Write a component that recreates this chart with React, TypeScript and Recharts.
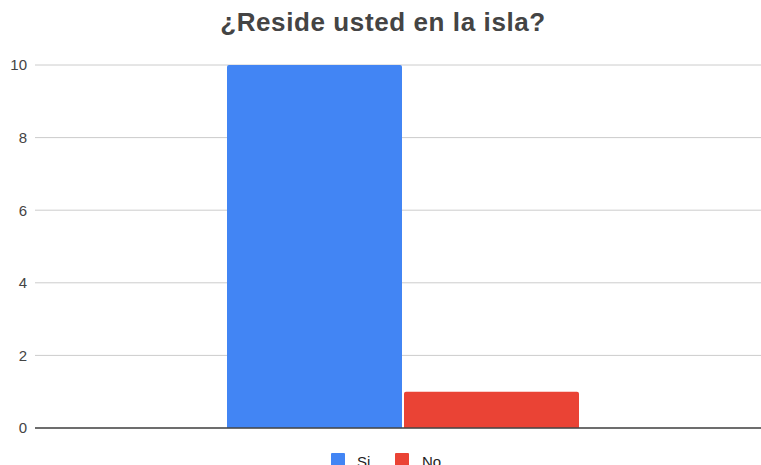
import React from "react";
import { BarChart, Bar, XAxis, YAxis, CartesianGrid, ReferenceLine } from "recharts";

const categories = [""];
const siValues = [10];
const noValues = [1];
const yTicks = [0, 2, 4, 6, 8, 10];
const seriesNames = ["Si", "No"];
const seriesColors = ["#4285F4", "#EA4335"];

const data = categories.map((c, i) => ({ name: c, Si: siValues[i], No: noValues[i] }));

const FONT = "Liberation Sans, Arial, sans-serif";

export default function App() {
  return (
    <div style={{ position: "absolute", left: 0, top: 0, width: 761, height: 465, overflow: "hidden", background: "#fff" }}>
      <div
        style={{
          position: "absolute",
          left: 0,
          width: 766,
          top: 10,
          lineHeight: "25px",
          textAlign: "center",
          fontFamily: FONT,
          fontWeight: "bold",
          fontSize: 26,
          letterSpacing: 0.6,
          color: "#444",
          zIndex: 2,
        }}
      >
        ¿Reside usted en la isla?
      </div>
      <BarChart
        width={780}
        height={465}
        data={data}
        margin={{ top: 65, right: 9, left: 0, bottom: 37 }}
        barGap={2}
      >
        <CartesianGrid horizontal vertical={false} stroke="#ccc" />
        <XAxis dataKey="name" hide height={0} />
        <YAxis
          width={35}
          domain={[0, 10]}
          ticks={yTicks}
          axisLine={false}
          tickLine={false}
          tickSize={0}
          tickMargin={8}
          tick={{ fill: "#444", fontSize: 15, fontFamily: FONT }}
        />
        <Bar dataKey="Si" fill={seriesColors[0]} barSize={175} radius={[2, 2, 0, 0]} isAnimationActive={false} />
        <Bar dataKey="No" fill={seriesColors[1]} barSize={175} radius={[2, 2, 0, 0]} isAnimationActive={false} />
        <ReferenceLine y={0} stroke="#444" strokeWidth={1.6} />
      </BarChart>
      {seriesNames.map((n, i) => (
        <React.Fragment key={n}>
          <div
            style={{
              position: "absolute",
              left: i === 0 ? 331 : 395,
              top: 453,
              width: 14,
              height: 14,
              background: seriesColors[i],
              borderRadius: 1,
            }}
          />
          <div
            style={{
              position: "absolute",
              left: i === 0 ? 357 : 422,
              top: 453,
              fontFamily: FONT,
              fontSize: 15,
              lineHeight: "17px",
              color: "#222",
            }}
          >
            {n}
          </div>
        </React.Fragment>
      ))}
    </div>
  );
}
